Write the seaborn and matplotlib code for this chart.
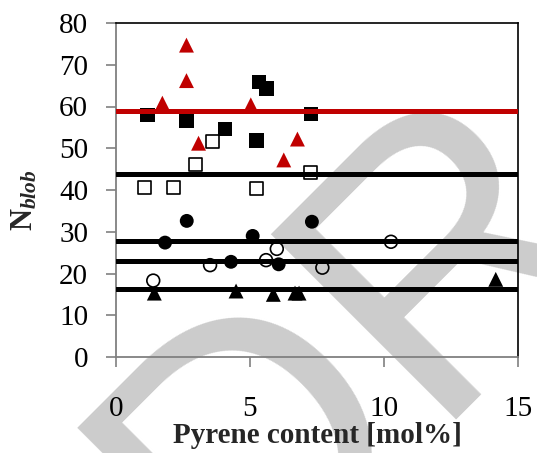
import matplotlib
matplotlib.use("Agg")
import matplotlib.pyplot as plt
import seaborn as sns
import pandas as pd

sns.set_theme(style="white")
plt.rcParams['font.family'] = ['Liberation Serif', 'DejaVu Serif']
plt.rcParams['mathtext.fontset'] = 'custom'
plt.rcParams['mathtext.rm'] = 'Liberation Serif'
plt.rcParams['mathtext.bf'] = 'Liberation Serif:bold'
plt.rcParams['mathtext.it'] = 'Liberation Serif:italic'
try:
    plt.rcParams['mathtext.bfit'] = 'Liberation Serif:italic:bold'
except KeyError:
    pass

# ---- data ----
red_tri_x = [2.63, 2.63, 1.73, 5.03, 3.08, 6.77, 6.26]
red_tri_y = [74.7, 66.2, 60.8, 60.4, 51.2, 52.2, 47.2]
fsq_x = [1.18, 2.64, 4.07, 5.34, 5.62, 5.25, 7.28]
fsq_y = [58.0, 56.6, 54.6, 65.9, 64.3, 51.8, 58.2]
osq_x = [3.59, 2.96, 1.06, 2.16, 5.26, 7.26]
osq_y = [51.7, 46.0, 40.6, 40.6, 40.4, 44.3]
fci_x = [2.64, 1.83, 5.10, 7.31, 4.29, 6.07]
fci_y = [32.6, 27.4, 29.0, 32.4, 22.8, 22.2]
oci_x = [10.26, 6.00, 5.60, 3.51, 7.70, 1.39]
oci_y = [27.6, 25.9, 23.2, 22.0, 21.4, 18.3]
ftr_x = [1.43, 4.48, 5.87, 6.68, 6.83, 14.17]
ftr_y = [15.3, 15.8, 15.0, 15.3, 15.3, 18.6]
avg_red = 59.0
avg_black = [43.9, 27.8, 23.0, 16.2]
x_ticks = [0, 5, 10, 15]
y_ticks = [0, 10, 20, 30, 40, 50, 60, 70, 80]
x_label = "Pyrene content [mol%]"
watermark = "DR"

RED = "#C00000"
GRAY = "#808080"

fig = plt.figure(figsize=(5.37, 4.53), dpi=100)
fig.patch.set_facecolor("white")
ax = fig.add_axes([116/537, 1-357/453, 402/537, 334/453])
ax.patch.set_alpha(0)

# watermark behind everything
fig.text(232/537, 1-613/453, watermark, rotation=45, rotation_mode='anchor',
         ha='left', va='baseline', fontsize=274, color='#cccccc',
         family='Liberation Sans', zorder=-10)

df = lambda xs, ys: pd.DataFrame({"x": xs, "y": ys})

sns.scatterplot(data=df(red_tri_x, red_tri_y), x="x", y="y", marker="^", s=115,
                color=RED, edgecolor="none", linewidth=0, ax=ax, zorder=2)
sns.scatterplot(data=df(fsq_x, fsq_y), x="x", y="y", marker="s", s=112,
                color="black", edgecolor="none", linewidth=0, ax=ax, zorder=2)
sns.scatterplot(data=df(osq_x, osq_y), x="x", y="y", marker="s", s=88,
                color="black", facecolor="none", edgecolor="black", linewidth=1.2, ax=ax, zorder=2)
sns.scatterplot(data=df(fci_x, fci_y), x="x", y="y", marker="o", s=100,
                color="black", edgecolor="none", linewidth=0, ax=ax, zorder=2)
sns.scatterplot(data=df(oci_x, oci_y), x="x", y="y", marker="o", s=85,
                color="black", facecolor="none", edgecolor="black", linewidth=1.2, ax=ax, zorder=2)
sns.scatterplot(data=df(ftr_x, ftr_y), x="x", y="y", marker="^", s=115,
                color="black", edgecolor="none", linewidth=0, ax=ax, zorder=2)

ax.axhline(avg_red, color=RED, lw=3.6, zorder=3)
for v in avg_black:
    ax.axhline(v, color="black", lw=3.6, zorder=3)

ax.set_xlim(0, 15)
ax.set_ylim(0, 80)
ax.set_xticks(x_ticks)
ax.set_yticks(y_ticks)
ax.set_xticklabels([str(t) for t in x_ticks])
ax.set_yticklabels([str(t) for t in y_ticks])
ax.tick_params(axis='both', direction='out', length=7, width=1.2, color=GRAY,
               labelsize=21, labelcolor='black')
ax.tick_params(axis='x', pad=21)
ax.tick_params(axis='y', pad=13)
ax.tick_params(left=True, bottom=True)

for side in ["left", "bottom"]:
    ax.spines[side].set_color(GRAY)
    ax.spines[side].set_linewidth(1.3)
for side in ["top", "right"]:
    ax.spines[side].set_visible(True)
    ax.spines[side].set_color("black")
    ax.spines[side].set_linewidth(1.2)

ax.set_xlabel(x_label, fontsize=21, fontweight='bold', labelpad=0)
ax.set_ylabel(r"$\mathbf{N}_{\mathbfit{blob}}$", fontsize=22, labelpad=14, y=0.47)

fig.savefig("out.png", dpi=100, facecolor="white")
